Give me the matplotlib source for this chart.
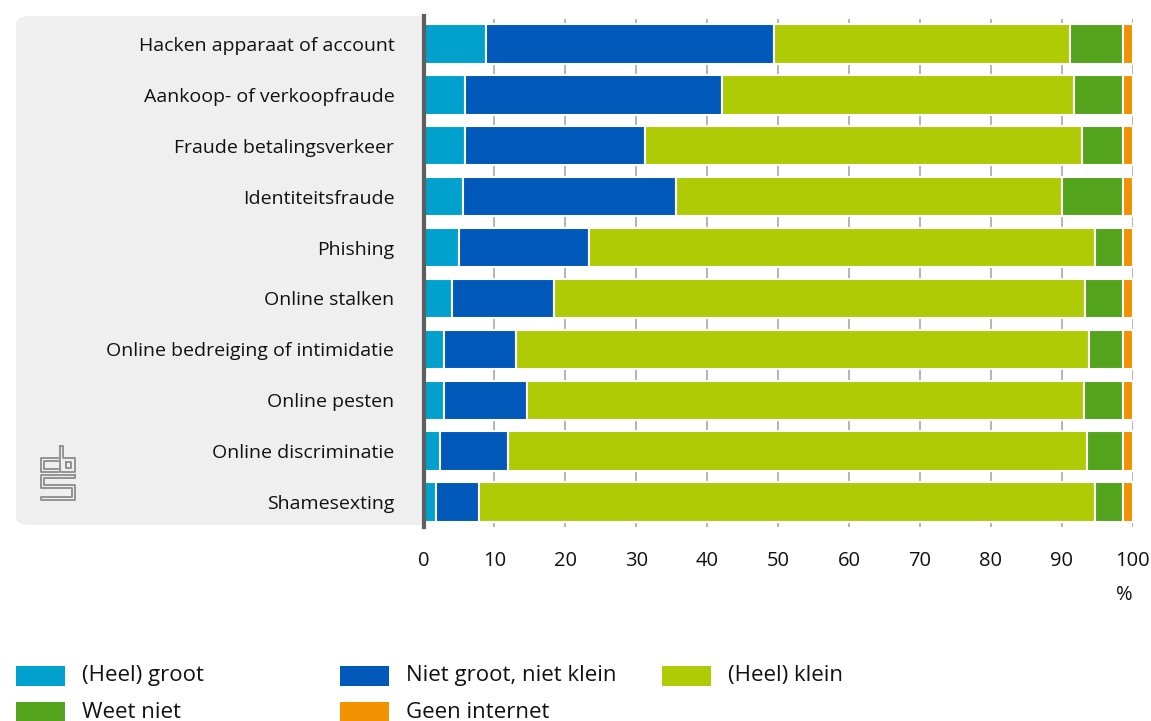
import numpy as np
import matplotlib
matplotlib.use("Agg")
import matplotlib.pyplot as plt
from matplotlib.patches import FancyBboxPatch, Rectangle
from matplotlib.lines import Line2D

plt.rcParams['font.family'] = ['Open Sans', 'DejaVu Sans']

# data (percentages per category)
categories = ["Hacken apparaat of account", "Aankoop- of verkoopfraude",
              "Fraude betalingsverkeer", "Identiteitsfraude", "Phishing",
              "Online stalken", "Online bedreiging of intimidatie",
              "Online pesten", "Online discriminatie", "Shamesexting"]
heel_groot = [8.8, 5.9, 5.9, 5.6, 5.0, 4.0, 2.9, 2.9, 2.3, 1.8]
niet_groot_niet_klein = [40.6, 36.2, 25.3, 30.0, 18.3, 14.4, 10.1, 11.7, 9.6, 6.0]
heel_klein = [41.8, 49.6, 61.6, 54.5, 71.4, 74.9, 80.9, 78.5, 81.7, 86.9]
weet_niet = [7.5, 7.0, 5.9, 8.6, 4.0, 5.4, 4.8, 5.6, 5.1, 4.0]
geen_internet = [1.3, 1.3, 1.3, 1.3, 1.3, 1.3, 1.3, 1.3, 1.3, 1.3]

series = [heel_groot, niet_groot_niet_klein, heel_klein, weet_niet, geen_internet]
labels = ["(Heel) groot", "Niet groot, niet klein", "(Heel) klein",
          "Weet niet", "Geen internet"]
colors = ["#00a1cd", "#0058b8", "#afcb05", "#53a31d", "#f39200"]

W, H = 1151, 721
fig = plt.figure(figsize=(W / 100, H / 100), dpi=100)


def px(x, y):
    return x / W, 1 - y / H


# grey panel behind the category labels (rounded on the left only)
x0, y0 = px(16, 525)
x1, y1 = px(424, 16)
panel = FancyBboxPatch((x0, y0), x1 - x0, y1 - y0,
                       boxstyle="round,pad=0,rounding_size=0.012",
                       transform=fig.transFigure, facecolor="#efefef",
                       edgecolor="none", zorder=-5)
fig.patches.append(panel)
xm, _ = px(220, 0)
fig.patches.append(Rectangle((xm, y0), x1 - xm, y1 - y0, transform=fig.transFigure,
                             facecolor="#efefef", edgecolor="none", zorder=-5))

ax = fig.add_axes([423.5 / W, 1 - 527.4 / H, (1132.7 - 423.5) / W, (527.4 - 18.6) / H])
ax.set_facecolor("none")
ax.set_zorder(2)

y = np.arange(len(categories))
left = np.zeros(len(categories))
for vals, lab, col in zip(series, labels, colors):
    ax.barh(y, vals, left=left, height=0.77, color=col, edgecolor="white",
            linewidth=1.5, label=lab, zorder=3)
    left += np.array(vals)

ax.set_xlim(0, 100)
ax.set_ylim(len(categories) - 0.5, -0.5)
ax.set_xticks(np.arange(0, 101, 10))
ax.set_yticks(y)
ax.set_yticklabels(categories, fontsize=14, color="#111111")
ax.tick_params(axis="y", length=0, pad=21)
ax.tick_params(axis="x", length=0, pad=17, labelsize=14.5, labelcolor="#111111")
ax.xaxis.grid(True, color="#a8a8a8", linewidth=1.2, zorder=0)
ax.set_axisbelow(True)
for s in ["top", "right", "bottom"]:
    ax.spines[s].set_visible(False)
ax.spines["left"].set_color("#5f5f5f")
ax.spines["left"].set_linewidth(3)
ax.spines["left"].set_bounds(-0.5 - 2.6 / 50.9, len(categories) - 0.5)
ax.spines["left"].set_zorder(5)

fig.text(1124 / W, 1 - 595 / H, "%", ha="center", va="center",
         fontsize=14.5, color="#111111")

# legend
leg_pos = [(16, 676), (340, 676), (662, 676), (16, 712), (340, 712)]
for (lx, ly), lab, col in zip(leg_pos, labels, colors):
    rx, ry = px(lx, ly + 10)
    fig.patches.append(Rectangle((rx, ry), 49 / W, 20 / H, transform=fig.transFigure,
                                 facecolor=col, edgecolor="none"))
    tx, ty = px(lx + 66, ly)
    fig.text(tx, ty, lab, ha="left", va="center", fontsize=16, color="#111111")

# cbs logo
logo = [
    [(58, 458), (41, 458), (41, 472), (58, 472)],
    [(58, 461), (44, 461), (44, 469), (58, 469)],
    [(60, 446), (60, 472), (75, 472), (75, 458), (63, 458), (63, 446), (60, 446)],
    [(66, 462), (71, 462), (71, 468), (66, 468), (66, 462)],
    [(75, 475), (41, 475), (41, 488), (72, 488), (72, 497), (41, 497), (41, 500),
     (75, 500), (75, 485), (44, 485), (44, 478), (75, 478), (75, 475)],
]
for pts in logo:
    xs, ys = zip(*[px(a, b) for a, b in pts])
    fig.lines.append(Line2D(xs, ys, transform=fig.transFigure, color="#8c8c8c",
                            linewidth=1.3))

fig.savefig("out.png", dpi=100)
